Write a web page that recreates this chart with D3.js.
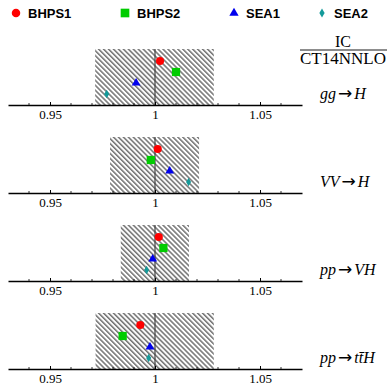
<!DOCTYPE html>
<html>
<head>
<meta charset="utf-8">
<script src="https://cdn.jsdelivr.net/npm/d3@7"></script>
<style>
  body { margin: 0; background: #fff; }
</style>
</head>
<body>
<div id="chart"></div>
<script>
var series = ["BHPS1", "BHPS2", "SEA1", "SEA2"];
var processes = ["gg→H", "VV→H", "pp→VH", "pp→ttH"];
var bhps1 = [1.0024, 1.0013, 1.0018, 0.9930];
var bhps2 = [1.0100, 0.9980, 1.0040, 0.9846];
var sea1  = [0.9910, 1.0070, 0.9989, 0.9976];
var sea2  = [0.9770, 1.0160, 0.9960, 0.9970];
var bandLow  = [0.9715, 0.9786, 0.9837, 0.9717];
var bandHigh = [1.0280, 1.0210, 1.0162, 1.0280];
var majorTicks = [0.95, 1, 1.05];
var minorTicks = [0.94, 0.96, 0.97, 0.98, 0.99, 1.01, 1.02, 1.03, 1.04, 1.06];

var values = [bhps1, bhps2, sea1, sea2];
var colors = ["#ff0000", "#00cc00", "#0000ee", "#149a9a"];
var symbols = [d3.symbolCircle, d3.symbolSquare, d3.symbolTriangle, d3.symbolDiamond];
var sizes = [52, 68, 34, 22];

var width = 390, height = 385;

var svg = d3.select("#chart").append("svg")
  .attr("width", width)
  .attr("height", height);

var defs = svg.append("defs");
defs.append("pattern")
    .attr("id", "hatch")
    .attr("patternUnits", "userSpaceOnUse")
    .attr("width", 3.5)
    .attr("height", 3.5)
    .attr("patternTransform", "rotate(-45)")
  .append("line")
    .attr("x1", 0.8).attr("y1", 0)
    .attr("x2", 0.8).attr("y2", 3.5)
    .attr("stroke", "#3a3a3a")
    .attr("stroke-width", 1.1);

var x = d3.scaleLinear()
  .domain([0.93, 1.07])
  .range([8, 302]);

// baseline of each panel
var panelY = d3.scalePoint()
  .domain(processes)
  .range([105, 369]);

// marker rows inside a panel (offset above the baseline)
var rowY = d3.scalePoint()
  .domain(series)
  .range([-44, -11]);

var boxH = 56;

processes.forEach(function(p, i) {
  var g = svg.append("g")
    .attr("transform", "translate(0," + panelY(p) + ")");

  g.append("rect")
    .attr("x", x(bandLow[i]))
    .attr("y", -boxH)
    .attr("width", x(bandHigh[i]) - x(bandLow[i]))
    .attr("height", boxH)
    .attr("fill", "url(#hatch)");

  g.append("line")
    .attr("x1", x(1)).attr("x2", x(1))
    .attr("y1", -boxH).attr("y2", 0)
    .attr("stroke", "#444")
    .attr("stroke-width", 1.2);

  var axis = g.append("g")
    .call(d3.axisBottom(x)
      .tickValues(majorTicks)
      .tickFormat(d3.format("~g"))
      .tickSizeInner(-3)
      .tickSizeOuter(0)
      .tickPadding(5));
  axis.select(".domain").attr("stroke", "#000").attr("stroke-width", 1.3);
  axis.selectAll(".tick line").attr("stroke", "#000");
  axis.selectAll("text")
    .attr("fill", "#000")
    .style("font-family", "'Liberation Serif', 'Times New Roman', serif")
    .style("font-size", "13px");

  g.selectAll(".minor")
    .data(minorTicks)
    .enter()
    .append("line")
      .attr("x1", function(d) { return x(d); })
      .attr("x2", function(d) { return x(d); })
      .attr("y1", 0).attr("y2", -2)
      .attr("stroke", "#000")
      .attr("stroke-width", 0.8);

  series.forEach(function(s, k) {
    g.append("path")
      .attr("d", d3.symbol().type(symbols[k]).size(sizes[k]))
      .attr("transform", "translate(" + x(values[k][i]) + "," + rowY(s) + ")")
      .attr("fill", colors[k]);
  });
});

// legend
var legendX = [16, 125, 234, 322];
series.forEach(function(s, k) {
  svg.append("path")
    .attr("d", d3.symbol().type(symbols[k]).size(sizes[k] * 1.1))
    .attr("transform", "translate(" + legendX[k] + ",13)")
    .attr("fill", colors[k]);
  svg.append("text")
    .attr("x", legendX[k] + 12)
    .attr("y", 17.5)
    .text(s)
    .style("font-family", "'Liberation Sans', Arial, sans-serif")
    .style("font-weight", "bold")
    .style("font-size", "13px");
});

// fraction label
var serif = "'Liberation Serif', 'Times New Roman', serif";
svg.append("text")
  .attr("x", 343).attr("y", 47)
  .attr("text-anchor", "middle")
  .text("IC")
  .style("font-family", serif).style("font-size", "16px");
svg.append("line")
  .attr("x1", 300).attr("x2", 387)
  .attr("y1", 50).attr("y2", 50)
  .attr("stroke", "#000").attr("stroke-width", 0.9);
svg.append("text")
  .attr("x", 343).attr("y", 63.5)
  .attr("text-anchor", "middle")
  .text("CT14NNLO")
  .style("font-family", serif).style("font-size", "16px")
  .attr("textLength", 86)
  .attr("lengthAdjust", "spacingAndGlyphs");

// process labels: [text, italic]
var labelParts = [
  [["gg", true], ["→", false], ["H", true]],
  [["VV", true], ["→", false], ["H", true]],
  [["pp", true], ["→", false], ["VH", true]],
  [["pp", true], ["→", false], ["tt\u0304H", true]]
];
processes.forEach(function(p, i) {
  var t = svg.append("text")
    .attr("x", 320)
    .attr("y", panelY(p) - 6)
    .style("font-family", serif)
    .style("font-size", "16px");
  labelParts[i].forEach(function(part) {
    var sp = t.append("tspan")
      .text(part[0])
      .style("font-style", part[1] ? "italic" : "normal");
    if (!part[1]) {
      sp.attr("dx", 2)
        .style("font-family", "'DejaVu Sans', sans-serif")
        .style("font-size", "17px");
    } else if (part[0] !== labelParts[i][0][0]) {
      sp.attr("dx", 2);
    }
  });
});
</script>
</body>
</html>
